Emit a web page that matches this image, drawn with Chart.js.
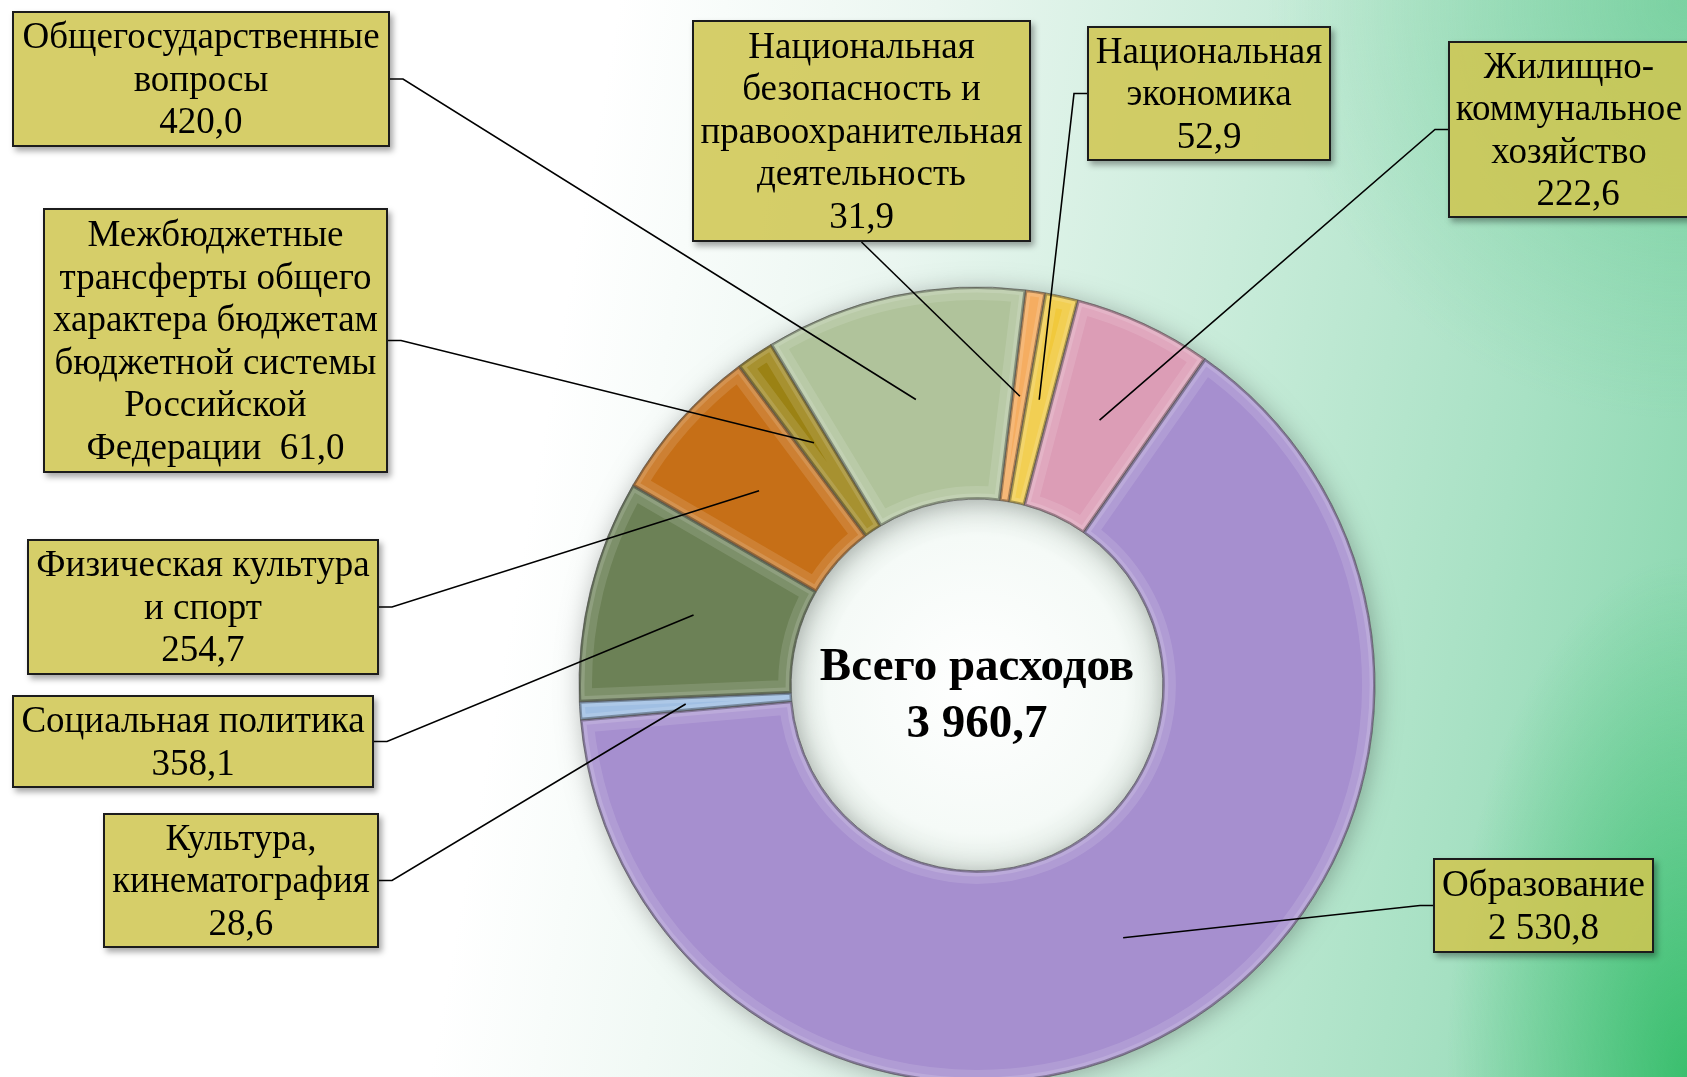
<!DOCTYPE html>
<html lang="ru">
<head>
<meta charset="utf-8">
<script src="https://cdn.jsdelivr.net/npm/chart.js@4.4.1/dist/chart.umd.min.js"></script>
<style>
    html, body {
        margin: 0;
        padding: 0;
        width: 1687px;
        height: 1077px;
        overflow: hidden;
    }
    body {
        background:
            radial-gradient(ellipse 240px 520px at 100% 100%, rgba(40, 185, 95, 0.8), rgba(40, 185, 95, 0) 100%),
            radial-gradient(ellipse 420px 420px at 100% 0%, rgba(95, 200, 140, 0.55), rgba(95, 200, 140, 0) 100%),
            linear-gradient(100deg, #ffffff 0%, #ffffff 33%, #eaf6f0 50%, #c9ecda 68%, #a8e1c4 85%, #86d6ac 100%);
        font-family: 'Liberation Serif', 'Times New Roman', serif;
    }
    .chart-wrap {
        position: absolute;
        left: 0;
        top: 0;
        width: 1687px;
        height: 1077px;
    }
    .caixa {
        position: absolute;
        box-sizing: border-box;
        background: rgba(207, 198, 80, 0.86);
        border: 2px solid #1c1c1c;
        box-shadow: 3px 4px 6px rgba(0, 0, 0, 0.35);
        display: flex;
        align-items: center;
        justify-content: center;
        text-align: center;
        white-space: pre;
        font-size: 37px;
        line-height: 42.5px;
        color: #000;
    }
    .total {
        position: absolute;
        left: 727px;
        top: 636px;
        width: 500px;
        text-align: center;
        font-weight: bold;
        font-size: 47px;
        line-height: 57px;
        color: #000;
        white-space: pre;
    }
</style>
</head>
<body>
<div class="chart-wrap">
    <canvas id="report"></canvas>
</div>
<div id="labels"></div>
<div class="total" id="total"></div>

<script>
// dados do gráfico (sentido horário a partir do topo)
const categories = [
    'Национальная\nбезопасность и\nправоохранительная\nдеятельность',
    'Национальная\nэкономика',
    'Жилищно-\nкоммунальное\nхозяйство',
    'Образование',
    'Культура,\nкинематография',
    'Социальная политика',
    'Физическая культура\nи спорт',
    'Межбюджетные\nтрансферты общего\nхарактера бюджетам\nбюджетной системы\nРоссийской\nФедерации',
    'Общегосударственные\nвопросы'
];
const values = [31.9, 52.9, 222.6, 2530.8, 28.6, 358.1, 254.7, 61.0, 420.0];
const totalTitle = 'Всего расходов';
const totalValue = 3960.7;

const colors = [
    '#f4a24c',
    '#f1c93c',
    '#dc9db6',
    '#a68fcf',
    '#93b7e0',
    '#6c8156',
    '#c66f17',
    '#9b8214',
    '#b0c39b'
];

// caixas dos rótulos: posição e lado de onde sai a linha
const caixas = [
    { x: 692, y: 20, w: 339, h: 222, lado: 'bottom', sep: '\n' },
    { x: 1087, y: 26, w: 244, h: 135, lado: 'left', sep: '\n' },
    { x: 1448, y: 41, w: 242, h: 177, lado: 'left', sep: '\n  ' },
    { x: 1433, y: 858, w: 221, h: 95, lado: 'left', sep: '\n' },
    { x: 103, y: 813, w: 276, h: 135, lado: 'right', sep: '\n' },
    { x: 12, y: 695, w: 362, h: 93, lado: 'right', sep: '\n' },
    { x: 27, y: 539, w: 352, h: 136, lado: 'right', sep: '\n' },
    { x: 43, y: 208, w: 345, h: 265, lado: 'right', sep: '  ' },
    { x: 12, y: 11, w: 378, h: 136, lado: 'right', sep: '\n' }
];

formatValor = function (v) {
    let partes = v.toFixed(1).split('.');
    let inteiro = partes[0].replace(/\B(?=(\d{3})+(?!\d))/g, ' ');
    return inteiro + ',' + partes[1];
}

// desenha as caixas com texto
categories.forEach((nome, i) => {
    let c = caixas[i];
    let div = document.createElement('div');
    div.className = 'caixa';
    div.style.left = c.x + 'px';
    div.style.top = c.y + 'px';
    div.style.width = c.w + 'px';
    div.style.height = c.h + 'px';
    div.textContent = nome + c.sep + formatValor(values[i]);
    document.getElementById('labels').appendChild(div);
});
document.getElementById('total').textContent = totalTitle + '\n' + formatValor(totalValue);

function arcPath(ctx, a) {
    ctx.beginPath();
    ctx.arc(a.x, a.y, a.outerRadius, a.startAngle, a.endAngle);
    ctx.arc(a.x, a.y, a.innerRadius, a.endAngle, a.startAngle, true);
    ctx.closePath();
}

// sombra do anel e miolo claro
const sombraAnel = {
    id: 'sombraAnel',
    beforeDatasetsDraw(chart) {
        const arc = chart.getDatasetMeta(0).data[0];
        if (!arc) return;
        const a = arc.getProps(['x', 'y', 'innerRadius', 'outerRadius']);
        const ctx = chart.ctx;
        ctx.save();
        let g = ctx.createRadialGradient(a.x, a.y, 0, a.x, a.y, a.innerRadius);
        g.addColorStop(0, '#ffffff');
        g.addColorStop(0.8, '#f5faf7');
        g.addColorStop(1, '#e3ece6');
        ctx.fillStyle = g;
        ctx.beginPath();
        ctx.arc(a.x, a.y, a.innerRadius, 0, Math.PI * 2);
        ctx.fill();
        ctx.shadowColor = 'rgba(0, 0, 0, 0.28)';
        ctx.shadowBlur = 24;
        ctx.shadowOffsetX = 2;
        ctx.shadowOffsetY = 3;
        ctx.fillStyle = '#ffffff';
        ctx.beginPath();
        ctx.arc(a.x, a.y, a.outerRadius, 0, Math.PI * 2);
        ctx.arc(a.x, a.y, a.innerRadius, Math.PI * 2, 0, true);
        ctx.fill();
        ctx.restore();
    }
};

// relevo das fatias + linhas de chamada
const relevoELinhas = {
    id: 'relevoELinhas',
    afterDatasetsDraw(chart) {
        const ctx = chart.ctx;
        const arcs = chart.getDatasetMeta(0).data;
        arcs.forEach(arc => {
            const a = arc.getProps(['x', 'y', 'startAngle', 'endAngle', 'innerRadius', 'outerRadius']);
            ctx.save();
            arcPath(ctx, a);
            ctx.clip();
            ctx.lineJoin = 'miter';
            ctx.strokeStyle = 'rgba(255, 255, 255, 0.12)';
            ctx.lineWidth = 26;
            ctx.stroke();
            ctx.strokeStyle = 'rgba(255, 255, 255, 0.14)';
            ctx.lineWidth = 11;
            ctx.stroke();
            ctx.strokeStyle = 'rgba(0, 0, 0, 0.3)';
            ctx.lineWidth = 4;
            ctx.stroke();
            ctx.restore();
        });

        ctx.save();
        ctx.strokeStyle = '#000';
        ctx.lineWidth = 1.6;
        arcs.forEach((arc, i) => {
            const a = arc.getProps(['x', 'y', 'startAngle', 'endAngle', 'innerRadius', 'outerRadius']);
            const meio = (a.startAngle + a.endAngle) / 2;
            const r = (a.innerRadius + a.outerRadius) / 2;
            const px = a.x + Math.cos(meio) * r;
            const py = a.y + Math.sin(meio) * r;
            const c = caixas[i];
            let sx, sy, ex, ey;
            if (c.lado === 'right') {
                sx = c.x + c.w; sy = c.y + c.h / 2; ex = sx + 13; ey = sy;
            } else if (c.lado === 'left') {
                sx = c.x; sy = c.y + c.h / 2; ex = sx - 13; ey = sy;
            } else {
                sx = c.x + c.w / 2; sy = c.y + c.h; ex = sx; ey = sy;
            }
            ctx.beginPath();
            ctx.moveTo(sx, sy);
            ctx.lineTo(ex, ey);
            ctx.lineTo(px, py);
            ctx.stroke();
        });
        ctx.restore();
    }
};

const ctx = document.getElementById('report').getContext('2d');
var report_container = new Chart(ctx, {
    type: 'doughnut',
    data: {
        labels: categories,
        datasets: [{
            data: values,
            backgroundColor: colors,
            borderColor: 'rgba(50, 50, 50, 0.6)',
            borderWidth: 1
        }]
    },
    options: {
        responsive: true,
        maintainAspectRatio: false,
        animation: false,
        rotation: 7,
        radius: 398,
        cutout: '46.7%',
        layout: {
            padding: { left: 400, right: 133, top: 300, bottom: 7 }
        },
        plugins: {
            legend: { display: false },
            tooltip: { enabled: false }
        }
    },
    plugins: [sombraAnel, relevoELinhas]
});
</script>
</body>
</html>
